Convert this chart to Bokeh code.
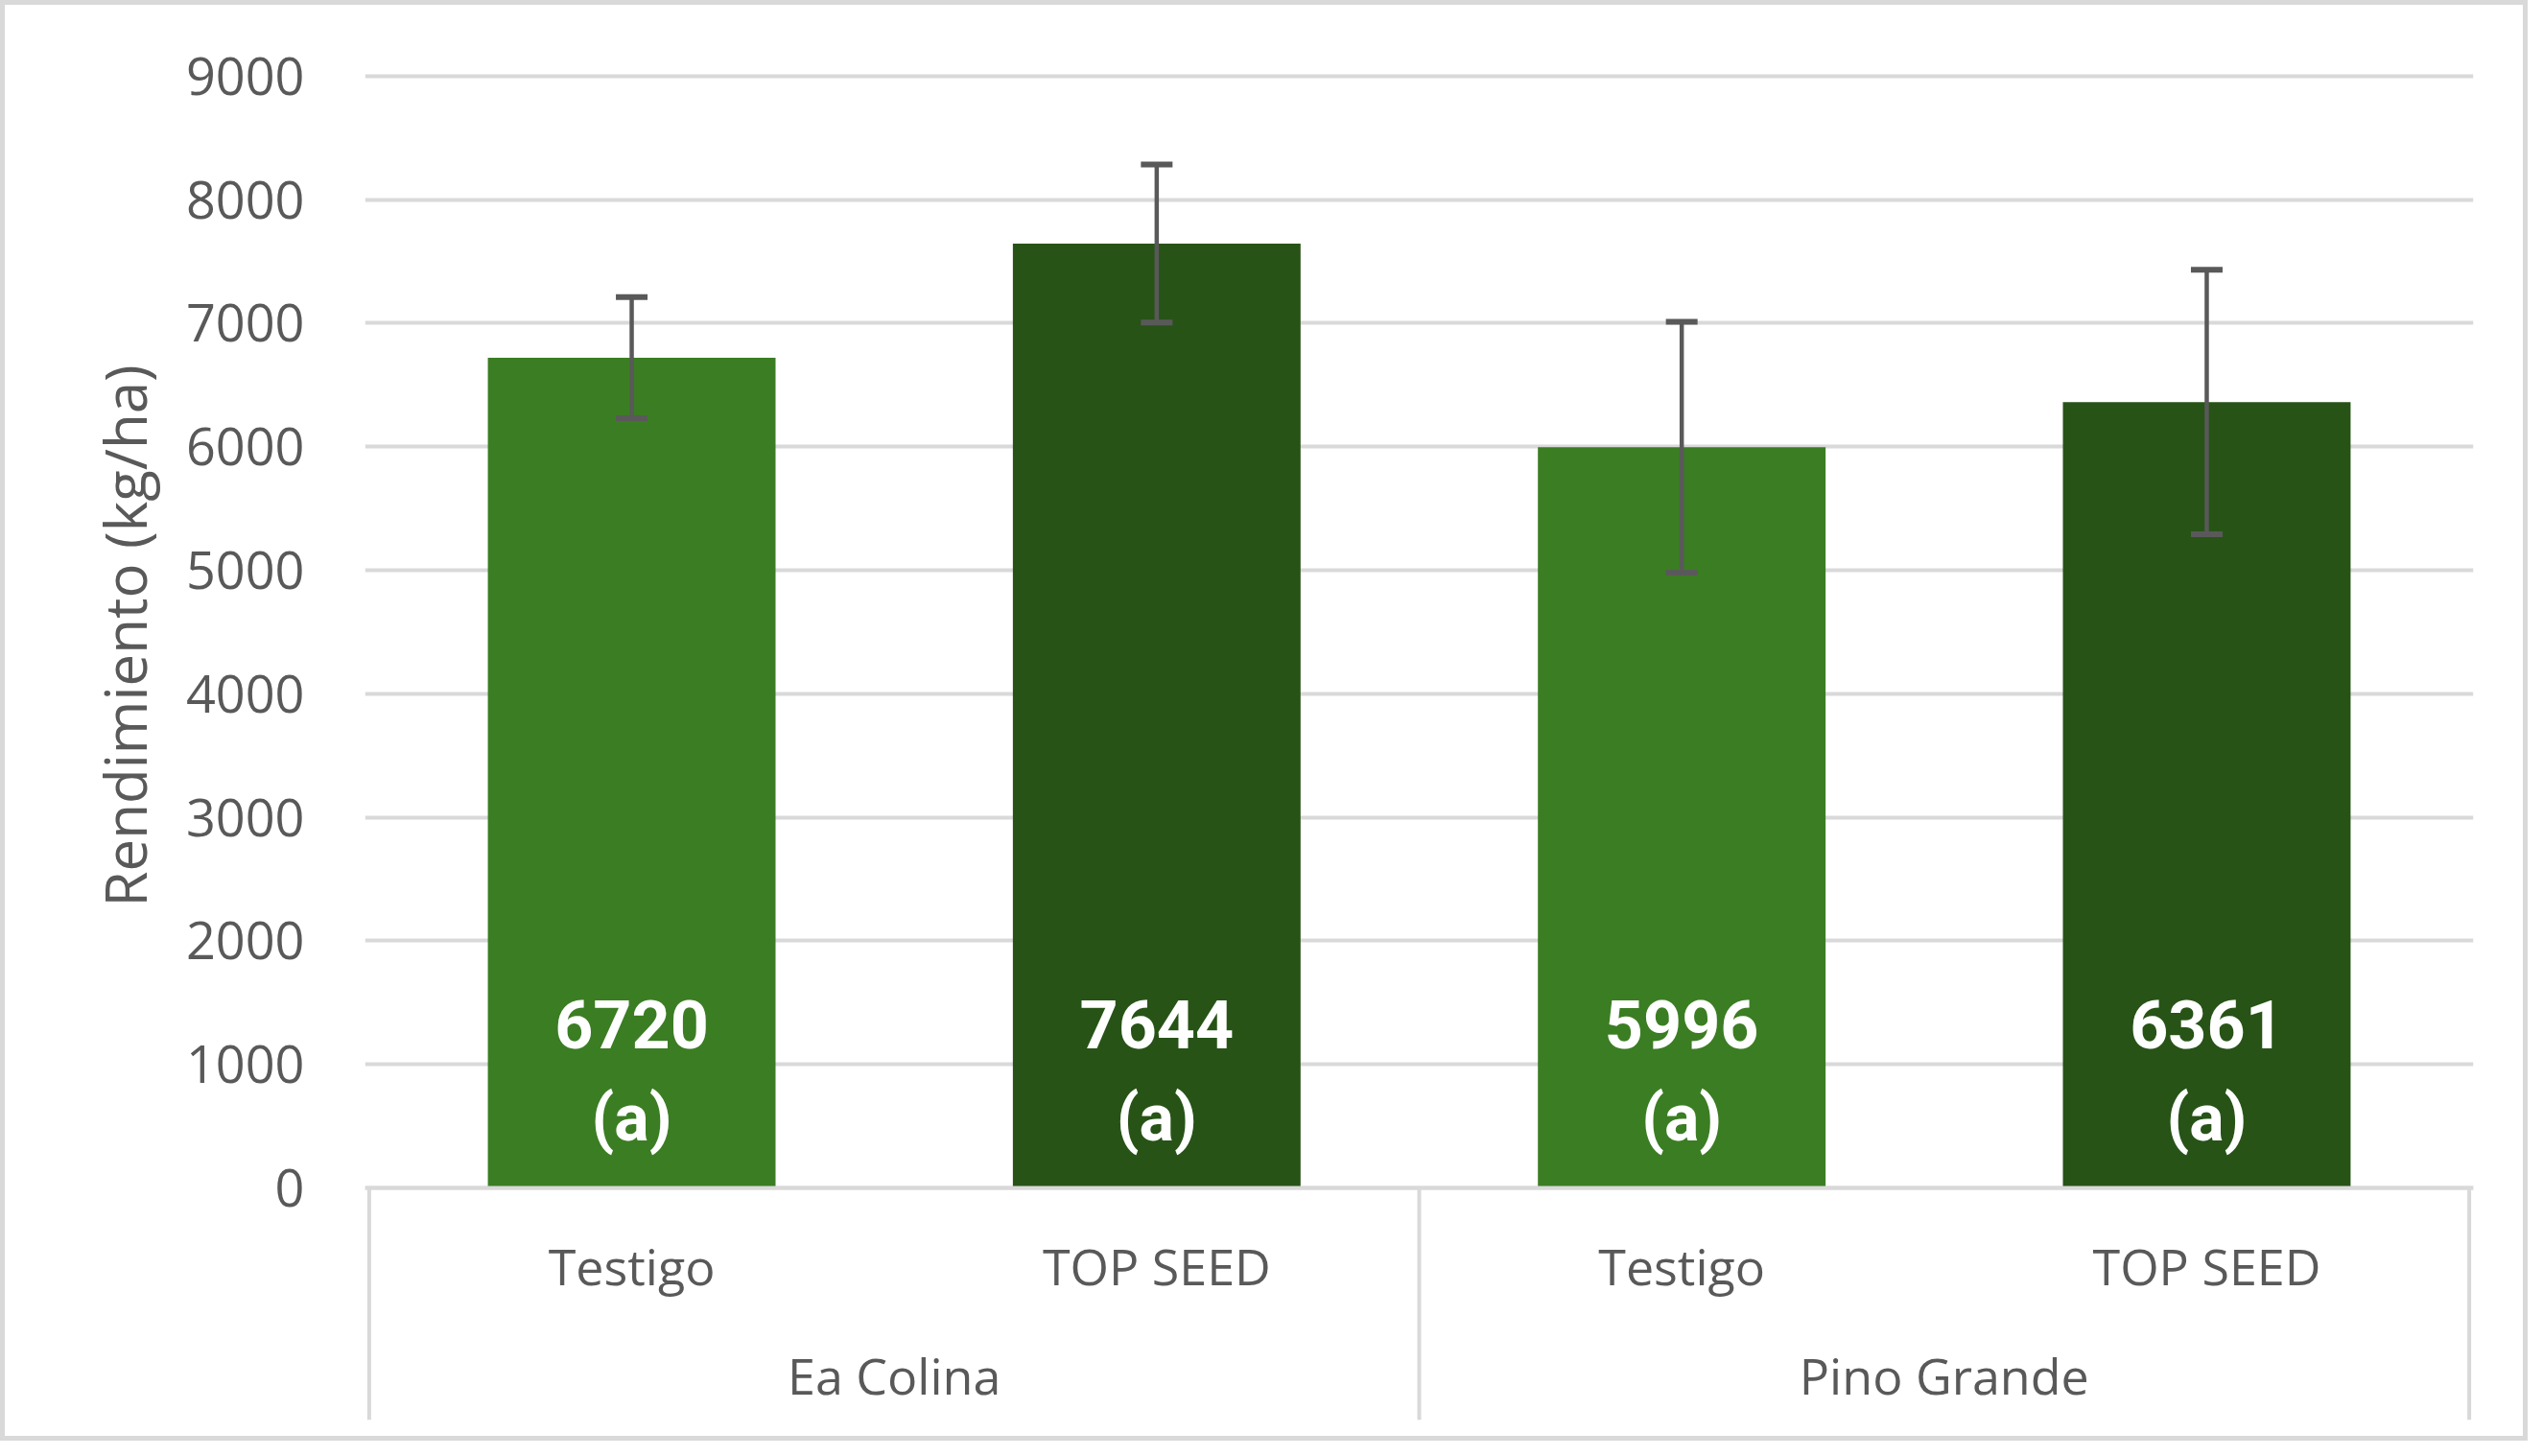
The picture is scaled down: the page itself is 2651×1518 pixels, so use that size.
from bokeh.plotting import figure
from bokeh.models import (FactorRange, Range1d, FixedTicker, ColumnDataSource,
                          Whisker, TeeHead, Title)
from bokeh.core.properties import value
from bokeh.embed import file_html
from bokeh.resources import INLINE

# ---- data ----
sites = ["Ea Colina", "Ea Colina", "Pino Grande", "Pino Grande"]
treatments = ["Testigo", "TOP SEED", "Testigo", "TOP SEED"]
yields = [6720, 7644, 5996, 6361]
errors = [490, 640, 1015, 1070]
letters = ["(a)", "(a)", "(a)", "(a)"]
y_ticks = [0, 1000, 2000, 3000, 4000, 5000, 6000, 7000, 8000, 9000]
y_title = "Rendimiento (kg/ha)"

# ---- styling ----
COLORS = {"Testigo": "#3B7D23", "TOP SEED": "#275317"}
GRAY = "#595959"
LIGHT = "#D9D9D9"
FONT = "Open Sans"

factors = list(zip(sites, treatments))
src = ColumnDataSource(dict(
    x=factors,
    top=yields,
    upper=[v + e for v, e in zip(yields, errors)],
    lower=[v - e for v, e in zip(yields, errors)],
    color=[COLORS[t] for t in treatments],
    val=[str(v) for v in yields],
    let=letters,
))

x_range = FactorRange(*factors, factor_padding=0, group_padding=0,
                      range_padding=0.008, range_padding_units="absolute")
y_range = Range1d(-1879, 9060)

p = figure(x_range=x_range, y_range=y_range, width=2635, height=1502,
           output_backend="svg", toolbar_location=None,
           min_border_left=380, min_border_right=57,
           min_border_top=71, min_border_bottom=22,
           background_fill_color="white",
           border_fill_color="white", border_fill_alpha=0,
           styles={"background-color": "white",
                   "box-shadow": "inset 0 0 0 5px #D9D9D9"})
p.outline_line_color = None

# gridlines
p.xgrid.grid_line_color = None
p.ygrid.ticker = FixedTicker(ticks=y_ticks)
p.ygrid.grid_line_color = LIGHT
p.ygrid.grid_line_width = 4

# group separators (vertical lines under the category axis)
seen = []
edges = []
for f in factors:
    if f[0] not in seen:
        seen.append(f[0])
        edges.append((f[0], f[1], -0.5))
edges.append((factors[-1][0], factors[-1][1], 0.5))
p.segment(x0=edges, x1=edges, y0=[0] * len(edges),
          y1=[y_range.start] * len(edges), line_color=LIGHT, line_width=4)

# bars
p.vbar(x="x", top="top", bottom=0, width=0.548, source=src,
       fill_color="color", line_color=None)

# error bars
w = Whisker(base="x", upper="upper", lower="lower", source=src,
            line_color=GRAY, line_width=4.5, level="overlay",
            upper_head=TeeHead(size=33, line_color=GRAY, line_width=6),
            lower_head=TeeHead(size=33, line_color=GRAY, line_width=6))
p.add_layout(w)

# data labels
p.text(x="x", y=1320, text="val", source=src, text_align="center",
       text_baseline="middle", text_color="white",
       text_font=value("Roboto"), text_font_style="bold",
       text_font_size="70px")
p.text(x="x", y=559, text="let", source=src, text_align="center",
       text_baseline="middle", text_color="white",
       text_font=value("Roboto"), text_font_style="bold",
       text_font_size="68px")

# y axis
ya = p.yaxis[0]
ya.ticker = FixedTicker(ticks=y_ticks)
ya.axis_line_color = None
ya.major_tick_line_color = None
ya.minor_tick_line_color = None
ya.major_label_standoff = 57
ya.major_label_text_font = FONT
ya.major_label_text_font_size = "54px"
ya.major_label_text_color = GRAY

# y axis title, placed alongside the 0..max tick span (as in the reference)
p.add_layout(Title(text=y_title, align="left", offset=535, standoff=40,
                   text_font=FONT, text_font_size="60px",
                   text_font_style="normal", text_color=GRAY), "left")

# x axis (category axis drawn at y = 0)
xa = p.xaxis[0]
xa.fixed_location = 0
xa.axis_line_color = LIGHT
xa.axis_line_width = 4
xa.major_tick_line_color = None
xa.minor_tick_line_color = None
xa.major_label_standoff = 40
xa.major_label_text_font = FONT
xa.major_label_text_font_size = "52px"
xa.major_label_text_color = GRAY
xa.group_text_font = FONT
xa.group_text_font_size = "52px"
xa.group_text_font_style = "normal"
xa.group_text_color = GRAY
xa.separator_line_color = None

open("out.html", "w").write(file_html(p, INLINE))
